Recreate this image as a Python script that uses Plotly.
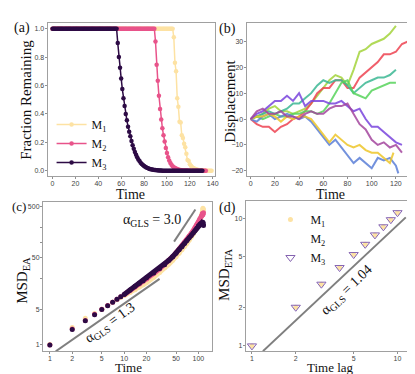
import plotly.graph_objects as go

# ─────────────────────────────────────────────────────────────────────────────
# DATA
# ─────────────────────────────────────────────────────────────────────────────

# (a) fraction remaining vs time
a_time_m1 = list(range(0, 140))
a_frac_m1 = ([1.0] * 106
             + [0.94, 0.76, 0.70, 0.51, 0.45, 0.345, 0.34, 0.25, 0.23, 0.19, 0.165,
                0.12, 0.075, 0.068, 0.045, 0.035, 0.025, 0.02, 0.015, 0.01, 0.008,
                0.006, 0.005, 0.004, 0.003, 0.002, 0.002, 0.001]
             + [0.0] * 6)
a_time_m2 = list(range(0, 135))
a_frac_m2 = ([1.0] * 90
             + [0.91, 0.746, 0.634, 0.528, 0.435, 0.36, 0.30, 0.25, 0.205,
                0.16, 0.125, 0.095, 0.072, 0.055, 0.042, 0.032, 0.025, 0.019, 0.015,
                0.011, 0.008, 0.006, 0.005, 0.004, 0.003, 0.002, 0.002, 0.001, 0.001]
             + [0.0] * 16)
a_time_m3 = list(range(0, 132))
a_frac_m3 = ([1.0] * 57
             + [0.90, 0.80, 0.725, 0.65, 0.575, 0.51, 0.455, 0.40, 0.355, 0.31,
                0.275, 0.243, 0.21, 0.18, 0.155, 0.132, 0.112, 0.095, 0.08, 0.068,
                0.057, 0.048, 0.04, 0.034, 0.028, 0.023, 0.019, 0.016, 0.013, 0.011,
                0.009, 0.007, 0.006, 0.005, 0.004, 0.003, 0.002, 0.002, 0.001]
             + [0.0] * 36)

# (b) displacement trajectories
b_time = [0, 5, 10, 15, 20, 25, 30, 35, 40, 45, 50, 55, 60, 65, 70, 75, 80, 85,
          90, 95, 100, 105, 110, 115, 120]
b_lgreen = [0, 1, 2, 4, 5, 3, 3, 2, 3, 4, 6, 9, 12, 15, 17, 16, 13, 19, 26, 27, 29, 30, 31, 33, 36]
b_red_t = b_time + [125, 130]
b_red = [0, -2, -3, -3, -5, -3, -2, 0, 1, 3, 6, 10, 12, 12, 15, 15, 12, 12, 16, 18, 20, 22, 25, 25, 26, 29, 30]
b_teal = [0, 1, 2, 3, 2, 3, 4, 6, 6, 8, 10, 13, 15, 14, 15, 15, 13, 10, 12, 14, 15, 16, 16, 17, 19]
b_green = [0, 1, 0, 1, 2, 1, 1, 2, 2, 3, 3, 2, 3, 6, 10, 14, 15, 10, 9, 8, 11, 12, 13, 14, 14]
b_blue_t = b_time + [122]
b_blue = [0, -1, 1, 2, 0, 1, 2, 1, 0, 1, -1, -4, -7, -10, -8, -11, -14, -17, -15, -17, -19, -15, -16, -15, -18, -21]
b_yellow_t = b_time[:-1] + [118]
b_yellow = [0, 1, 1, 2, 1, -1, 1, 0, 1, 1, 0, -3, -6, -9, -6, -8, -10, -11, -10, -12, -13, -13, -15, -17, -13]
b_purple_t = b_time + [125]
b_purple = [0, 2, 3, 5, 7, 7, 9, 7, 10, 5, 7, 7, 7, 6, 6, 7, 5, 3, 4, 0, -3, -3, -5, -7, -9, -10]
b_magenta_t = b_time + [125]
b_magenta = [0, 3, 4, 2, 2, 3, 1, 1, 0, 2, 3, 2, 2, 4, 5, 5, 6, 2, -2, -4, -8, -10, -9, -11, -10, -13]

# (c) ensemble-averaged MSD
c_time = [1, 2, 3, 4, 5, 6, 7, 8, 9, 10, 12, 14, 16, 18, 20, 25, 30, 35, 40, 45,
          50, 55, 60, 65, 70, 75, 80, 85, 90, 95, 100, 105, 110, 113, 115, 117]
c_msd_m1 = [1.02, 2.2, 3.3, 4.1, 5.0, 5.9, 6.8, 7.6, 8.4, 9.2, 10.6, 12, 13.5, 15, 16.5, 21, 26, 32,
            38, 45, 53, 62, 72, 84, 97, 112, 128, 147, 168, 195, 225, 270, 330, 380, 470, 430]
c_msd_m2 = [1.0, 2.05, 3.0, 3.95, 4.95, 5.9, 6.85, 7.8, 8.7, 9.6, 11.5, 13.5, 15.5, 17.5, 19.5, 25,
            30.5, 37, 45, 53, 63, 74, 86, 100, 115, 132, 150, 170, 195, 220, 250, 290, 330, 370, 350, 380]
c_msd_m3 = [1.0, 2.0, 2.95, 3.9, 4.9, 5.8, 6.8, 7.8, 8.7, 9.7, 11.8, 14, 16, 18, 20.5, 25.5, 31, 37,
            45, 53, 62, 72, 83, 96, 110, 124, 138, 153, 172, 190, 212, 230, 240, 225, 250, 215]
c_fit_low_t = [1.2, 30]
c_fit_low_v = [0.75, 19.5]
c_fit_high_t = [47, 91]
c_fit_high_v = [104, 443]

# (d) ensemble-time-averaged MSD
d_lag = [1, 2, 3, 4, 5, 6, 7, 8, 9, 10]
d_msd = [1.0, 2.01, 3.05, 4.12, 5.21, 6.27, 7.43, 8.6, 9.78, 11.1]
d_fit_t = [1.19, 11.4]
d_fit_v = [0.91, 10.2]

# ─────────────────────────────────────────────────────────────────────────────
# STYLE
# ─────────────────────────────────────────────────────────────────────────────

W, H = 415, 374
SERIF = "Liberation Serif, Times New Roman, serif"
SANS = "Liberation Sans, Arial, sans-serif"
C_M1, C_M2, C_M3 = "#fde2a3", "#e8538a", "#2d0b45"
C_FIT = "#7f7f7f"


def px(x):
    return x / W


def py(y):
    return 1 - y / H


def _axis(x0, x1, rng, **kwargs):
    ax = dict(
        domain=[x0, x1], range=rng,
        showline=True, linecolor="#a0a0a0", linewidth=1, mirror=True,
        ticks="outside", ticklen=2, tickcolor="#909090",
        showgrid=False, zeroline=False, ticklabelstandoff=-1,
        tickfont=dict(family=SANS, size=7, color="#444"),
    )
    ax.update(kwargs)
    return ax


def _label(x, y, text, size=15, angle=0):
    return dict(x=px(x), y=py(y), xref="paper", yref="paper", text=text,
                xanchor="center", yanchor="middle",
                showarrow=False, textangle=angle,
                font=dict(family=SERIF, size=size, color="#111"))


fig = go.Figure()

# ─────────────────────────────────────────────────────────────────────────────
# (a) FRACTION REMAINING
# ─────────────────────────────────────────────────────────────────────────────

for t, v, name, color in [
    (a_time_m1, a_frac_m1, "M<sub>1</sub>", C_M1),
    (a_time_m2, a_frac_m2, "M<sub>2</sub>", C_M2),
    (a_time_m3, a_frac_m3, "M<sub>3</sub>", C_M3),
]:
    fig.add_trace(go.Scatter(
        x=t, y=v, name=name, mode="lines+markers",
        line=dict(color=color, width=1.5), marker=dict(color=color, size=4.5),
        xaxis="x", yaxis="y", legend="legend",
    ))

# ─────────────────────────────────────────────────────────────────────────────
# (b) DISPLACEMENT
# ─────────────────────────────────────────────────────────────────────────────

for t, v, color in [
    (b_time, b_lgreen, "#a4d43c"),
    (b_red_t, b_red, "#ee4452"),
    (b_time, b_teal, "#3cb894"),
    (b_time, b_green, "#58d45c"),
    (b_blue_t, b_blue, "#5b7fd8"),
    (b_yellow_t, b_yellow, "#eec62a"),
    (b_purple_t, b_purple, "#7a45de"),
    (b_magenta_t, b_magenta, "#a4469e"),
]:
    fig.add_trace(go.Scatter(
        x=t, y=v, mode="lines", line=dict(color=color, width=2),
        opacity=0.85, showlegend=False, xaxis="x2", yaxis="y2",
    ))

# ─────────────────────────────────────────────────────────────────────────────
# (c) MSD_EA
# ─────────────────────────────────────────────────────────────────────────────

for v, color in [(c_msd_m1, C_M1), (c_msd_m2, C_M2), (c_msd_m3, C_M3)]:
    fig.add_trace(go.Scatter(
        x=c_time[9:], y=v[9:], mode="lines", line=dict(color=color, width=5),
        showlegend=False, xaxis="x3", yaxis="y3", hoverinfo="skip",
    ))
    fig.add_trace(go.Scatter(
        x=c_time, y=v, mode="markers", marker=dict(color=color, size=5),
        showlegend=False, xaxis="x3", yaxis="y3",
    ))
for t, v in [(c_fit_low_t, c_fit_low_v), (c_fit_high_t, c_fit_high_v)]:
    fig.add_trace(go.Scatter(
        x=t, y=v, mode="lines", line=dict(color=C_FIT, width=2),
        showlegend=False, xaxis="x3", yaxis="y3",
    ))

# ─────────────────────────────────────────────────────────────────────────────
# (d) MSD_ETA
# ─────────────────────────────────────────────────────────────────────────────

fig.add_trace(go.Scatter(
    x=d_fit_t, y=d_fit_v, mode="lines", line=dict(color=C_FIT, width=2),
    showlegend=False, xaxis="x4", yaxis="y4",
))
fig.add_trace(go.Scatter(
    x=d_lag, y=d_msd, name="M<sub>1</sub>", mode="markers",
    marker=dict(color=C_M1, size=5), xaxis="x4", yaxis="y4", legend="legend2",
))
fig.add_trace(go.Scatter(
    x=d_lag, y=d_msd, name="M<sub>2</sub>", mode="markers",
    marker=dict(color="rgba(0,0,0,0)", size=5), xaxis="x4", yaxis="y4", legend="legend2",
))
fig.add_trace(go.Scatter(
    x=d_lag, y=d_msd, name="M<sub>3</sub>", mode="markers",
    marker=dict(symbol="triangle-down-open", color="#8462b0", size=8, line=dict(width=1)),
    xaxis="x4", yaxis="y4", legend="legend2",
))

# ─────────────────────────────────────────────────────────────────────────────
# LAYOUT
# ─────────────────────────────────────────────────────────────────────────────

legend_style = dict(
    bgcolor="rgba(0,0,0,0)", borderwidth=0, xanchor="left", yanchor="top",
    font=dict(family=SERIF, size=12, color="#111"), tracegroupgap=0, itemwidth=30,
)
minor_ticks = dict(ticks="outside", ticklen=2, tickcolor="#909090", showgrid=False)

fig.update_layout(
    width=W, height=H, margin=dict(l=0, r=0, t=0, b=0),
    paper_bgcolor="white", plot_bgcolor="white",
    showlegend=True,
    legend=dict(x=px(44), y=py(102), **legend_style),
    legend2=dict(x=px(265), y=py(197), **legend_style),
    xaxis=_axis(px(40), px(209), [-4.3, 142],
                tickvals=[0, 20, 40, 60, 80, 100, 120, 140], anchor="y"),
    yaxis=_axis(py(168), py(15), [-0.037, 1.04],
                tickvals=[0, 0.2, 0.4, 0.6, 0.8, 1.0], tickformat=".1f", anchor="x"),
    xaxis2=_axis(px(241), px(411), [-3.3, 135.8],
                 tickvals=[0, 20, 40, 60, 80, 100, 120], anchor="y2"),
    yaxis2=_axis(py(168), py(15), [-22.0, 37.1],
                 tickvals=[-20, -10, 0, 10, 20, 30], anchor="x2"),
    xaxis3=_axis(px(35.3), px(206), [-0.093, 2.183], type="log",
                 tickvals=[1, 2, 5, 10, 20, 50, 100], ticktext=["1", "2", "5", "10", "20", "50", "100"],
                 anchor="y3"),
    yaxis3=_axis(py(343), py(194), [-0.119, 2.792], type="log",
                 tickvals=[1, 5, 50, 500], ticktext=["1", "5", "50", "500"],
                 minor=dict(tickvals=[20, 100, 200], **minor_ticks),
                 anchor="x3"),
    xaxis4=_axis(px(240), px(409), [-0.043, 1.107], type="log",
                 tickvals=[1, 2, 5, 10], ticktext=["1", "2", "5", "10"], anchor="y4"),
    yaxis4=_axis(py(343), py(193), [-0.040, 1.137], type="log",
                 tickvals=[1, 2, 5, 10], ticktext=["1", "2", "5", "10"], anchor="x4"),
    annotations=[
        _label(14, 20, "(a)", 14),
        _label(222, 21, "(b)", 14),
        _label(11, 198, "(c)", 13),
        _label(222, 200, "(d)", 14),
        _label(18, 92, "Fraction Remaining", 15, -90),
        _label(124, 186, "Time", 14),
        _label(224, 93, "Displacement", 15, -90),
        _label(326, 186, "Time", 14),
        _label(15, 272, "MSD<sub>EA</sub>", 15, -90),
        _label(122, 359, "Time", 13),
        _label(219, 266, "MSD<sub>ETA</sub>", 15, -90),
        _label(326, 359, "Time lag", 13),
        _label(145, 213, "α<sub>GLS</sub> = 3.0", 14),
        _label(103, 315, "α<sub>GLS</sub> = 1.3", 14, -36),
        _label(342, 282, "α<sub>GLS</sub> = 1.04", 14, -44),
    ],
)

fig.write_html("out.html")
